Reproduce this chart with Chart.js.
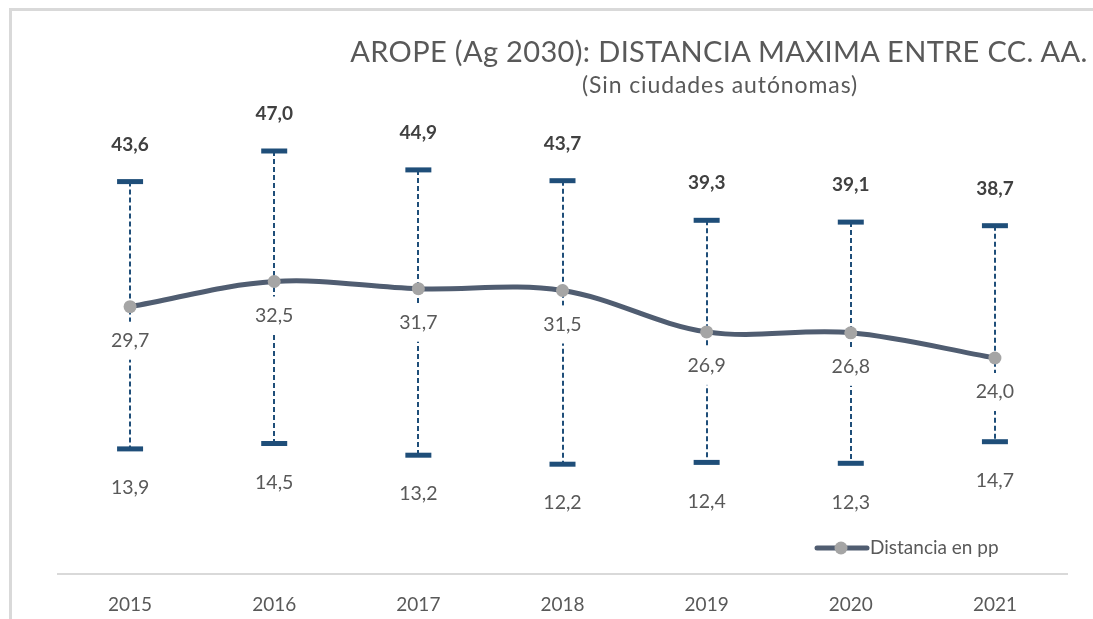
<!DOCTYPE html>
<html>
<head>
<meta charset="utf-8">
<script src="https://cdn.jsdelivr.net/npm/chart.js@4.4.1/dist/chart.umd.min.js"></script>
<style>
  html, body { margin: 0; padding: 0; background: #fff; }
  #wrap { position: relative; width: 1093px; height: 619px; overflow: hidden; }
  #frame { position: absolute; left: 9px; top: 8px; width: 1200px; height: 700px; border: 3px solid #d9d9d9; box-sizing: border-box; }
  #c { position: absolute; left: 0; top: 0; }
  .t { position: absolute; white-space: nowrap; color: #595959; font-family: Lato, "Open Sans", sans-serif; transform: translateX(-50%); line-height: 1.2; }
  #title { left: 719px; top: 34px; font-size: 29px; letter-spacing: 0.35px; }
  #subtitle { left: 720px; top: 71px; font-size: 23px; letter-spacing: 0.9px; }
</style>
</head>
<body>
<div id="wrap">
  <div id="frame"></div>
  <canvas id="c" width="1093" height="619"></canvas>
  <div class="t" id="title">AROPE (Ag 2030): DISTANCIA MAXIMA ENTRE CC. AA.</div>
  <div class="t" id="subtitle">(Sin ciudades autónomas)</div>
</div>
<script>
const years = ['2015', '2016', '2017', '2018', '2019', '2020', '2021'];
const distancia = [29.7, 32.5, 31.7, 31.5, 26.9, 26.8, 24.0];
const maximo = [43.6, 47.0, 44.9, 43.7, 39.3, 39.1, 38.7];
const minimo = [13.9, 14.5, 13.2, 12.2, 12.4, 12.3, 14.7];
const serieName = 'Distancia en pp';

const FONT = 'Lato, "Open Sans", sans-serif';
const fmt = v => v.toFixed(1).replace('.', ',');

const NAVY = '#1F4E79';
const LINE = '#505D71';
const POINT = '#A5A5A5';
const GRAY_TXT = '#595959';

const hiLoPlugin = {
  id: 'hiLo',
  beforeDatasetsDraw(chart) {
    const {ctx, scales: {x, y}} = chart;
    ctx.save();
    ctx.strokeStyle = NAVY;
    ctx.lineWidth = 2;
    ctx.setLineDash([5, 3]);
    maximo.forEach((hi, i) => {
      const px = Math.round(x.getPixelForValue(i));
      ctx.beginPath();
      ctx.moveTo(px, y.getPixelForValue(hi));
      ctx.lineTo(px, y.getPixelForValue(minimo[i]));
      ctx.stroke();
    });
    ctx.setLineDash([]);
    // white boxes behind the middle labels
    ctx.font = '19px ' + FONT;
    ctx.fillStyle = '#ffffff';
    distancia.forEach((v, i) => {
      const px = x.getPixelForValue(i);
      const cy = y.getPixelForValue(v) + 34;
      const w = ctx.measureText(fmt(v)).width + 6;
      ctx.fillRect(px - w / 2, cy - 19, w, 38);
    });
    ctx.restore();
  },
  afterDatasetsDraw(chart) {
    const {ctx, scales: {x, y}} = chart;
    ctx.save();
    ctx.textAlign = 'center';
    ctx.textBaseline = 'middle';
    maximo.forEach((v, i) => {
      ctx.font = 'bold 19px ' + FONT;
      ctx.fillStyle = '#404040';
      ctx.fillText(fmt(v), x.getPixelForValue(i), y.getPixelForValue(v) - 37);
    });
    distancia.forEach((v, i) => {
      ctx.font = '19.5px ' + FONT;
      ctx.fillStyle = GRAY_TXT;
      ctx.fillText(fmt(v), x.getPixelForValue(i), y.getPixelForValue(v) + 34);
    });
    minimo.forEach((v, i) => {
      ctx.font = '19.5px ' + FONT;
      ctx.fillStyle = GRAY_TXT;
      ctx.fillText(fmt(v), x.getPixelForValue(i), y.getPixelForValue(v) + 39);
    });
    // legend
    const ds = chart.data.datasets[0];
    const ly = 548;
    ctx.strokeStyle = ds.borderColor;
    ctx.lineWidth = ds.borderWidth;
    ctx.lineCap = 'round';
    ctx.beginPath();
    ctx.moveTo(817, ly);
    ctx.lineTo(867, ly);
    ctx.stroke();
    ctx.fillStyle = ds.pointBackgroundColor;
    ctx.beginPath();
    ctx.arc(841, ly, 6.5, 0, Math.PI * 2);
    ctx.fill();
    ctx.fillStyle = GRAY_TXT;
    ctx.font = '19px ' + FONT;
    ctx.textAlign = 'left';
    ctx.fillText(ds.label, 870, ly);
    ctx.restore();
  }
};

new Chart(document.getElementById('c'), {
  type: 'line',
  data: {
    labels: years,
    datasets: [
      {
        label: serieName,
        data: distancia,
        borderColor: LINE,
        borderWidth: 5,
        tension: 0.35,
        pointRadius: 6.5,
        pointBackgroundColor: POINT,
        pointBorderColor: POINT,
        pointBorderWidth: 0,
        order: 0
      },
      {
        label: 'Máximo',
        data: maximo,
        showLine: false,
        pointStyle: 'line',
        pointRadius: 13,
        pointBorderWidth: 5,
        pointBorderColor: NAVY,
        borderColor: NAVY,
        order: 1
      },
      {
        label: 'Mínimo',
        data: minimo,
        showLine: false,
        pointStyle: 'line',
        pointRadius: 13,
        pointBorderWidth: 5,
        pointBorderColor: NAVY,
        borderColor: NAVY,
        order: 1
      }
    ]
  },
  options: {
    responsive: false,
    animation: false,
    layout: { padding: { top: 124, left: 58, right: 26, bottom: 0 } },
    plugins: {
      legend: { display: false },
      tooltip: { enabled: false },
      title: { display: false }
    },
    scales: {
      x: {
        offset: true,
        grid: { color: 'transparent', drawTicks: false },
        border: { display: true, color: '#D9D9D9', width: 2 },
        ticks: { color: GRAY_TXT, font: { family: FONT, size: 19 }, padding: 19 },
        afterFit: s => { s.height = 45; }
      },
      y: {
        display: false,
        min: 0,
        max: 50
      }
    }
  },
  plugins: [hiLoPlugin]
});
</script>
</body>
</html>
